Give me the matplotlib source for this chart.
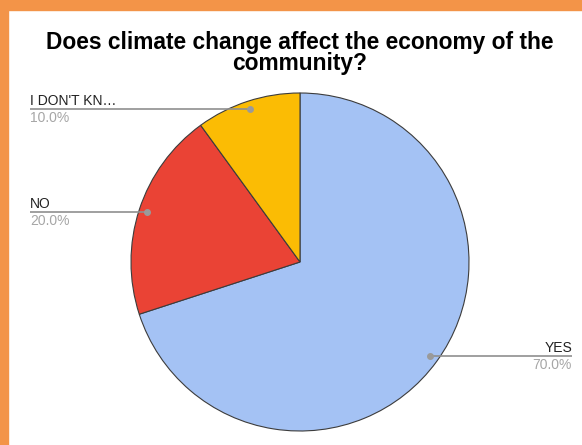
import numpy as np
import matplotlib
matplotlib.use("Agg")
import matplotlib.pyplot as plt
from matplotlib.patches import Rectangle

plt.rcParams['font.family'] = ['Liberation Sans', 'DejaVu Sans']

title_lines = ["Does climate change affect the economy of the", "community?"]
categories = ["YES", "NO", "I DON'T KN\u2026"]
values = [70.0, 20.0, 10.0]
colors = ["#A4C2F4", "#EA4335", "#FBBC04"]

W, H = 582, 445
fig = plt.figure(figsize=(W / 100, H / 100), dpi=100)
ax = fig.add_axes([0, 0, 1, 1])

# orange frame on left and top
fig.patches.append(Rectangle((0, 0), 8 / W, 1, transform=fig.transFigure, color="#F39448", zorder=10))
fig.patches.append(Rectangle((0, 1 - 10 / H), 1, 10 / H, transform=fig.transFigure, color="#F39448", zorder=10))

cx, cy, r = 300, H - 262, 169
wedges, _ = ax.pie(values, colors=colors, startangle=90, counterclock=False,
                   center=(cx, cy), radius=r, frame=True,
                   wedgeprops=dict(edgecolor="#3c3c3c", linewidth=0.8))
ax.set_xlim(0, W)
ax.set_ylim(0, H)
ax.set_aspect('equal')
ax.axis('off')

total = sum(values)
for w, cat, v in zip(wedges, categories, values):
    ang = np.deg2rad((w.theta1 + w.theta2) / 2)
    dx, dy = np.cos(ang), np.sin(ang)
    px, py = cx + 0.95 * r * dx, cy + 0.95 * r * dy
    ax.plot([px], [py], marker='o', ms=4, color="#9a9a9a", zorder=5)
    if dx >= 0:
        ex, ha = 572, 'right'
    else:
        ex, ha = 30, 'left'
    ax.plot([px, ex], [py, py], color="#8f8f8f", lw=1.2, zorder=4, solid_capstyle='butt')
    ax.text(ex, py + 4, cat, ha=ha, va='baseline', fontsize=10, color="#222222")
    ax.text(ex, py - 12.5, f"{v / total * 100:.1f}%", ha=ha, va='baseline', fontsize=10, color="#a6a6a6")

for i, line in enumerate(title_lines):
    fig.text(300 / W, 1 - (49 + 21 * i) / H, line, ha='center', va='baseline', fontsize=16.4,
             fontweight='bold', color="#000000")

fig.savefig("out.png", dpi=100, facecolor="white")
